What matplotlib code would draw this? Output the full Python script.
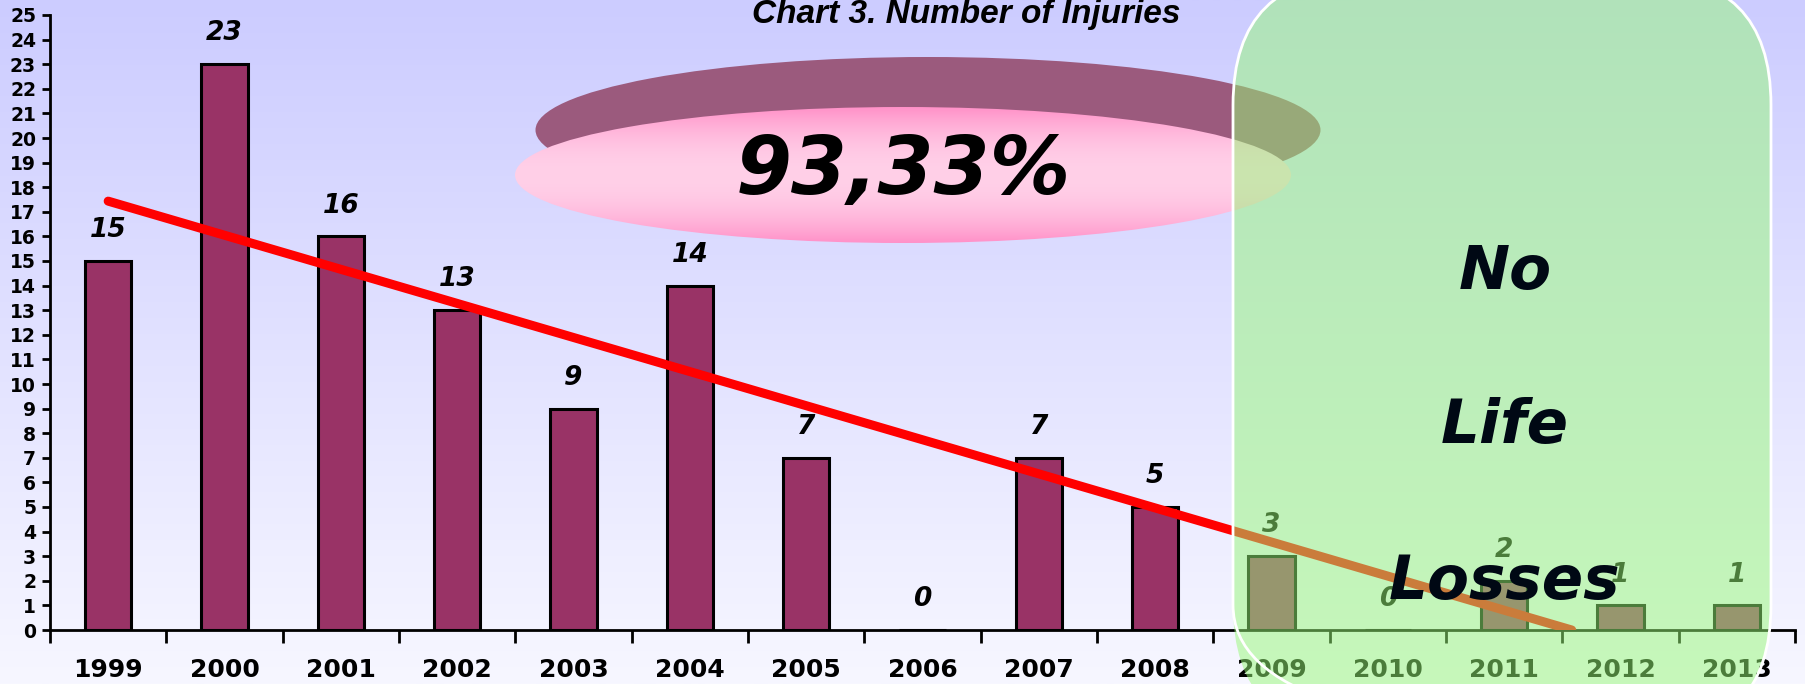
import numpy as np
import matplotlib
matplotlib.use('Agg')
import matplotlib.pyplot as plt
from matplotlib.patches import Ellipse, FancyBboxPatch

# Data
years = ['1999', '2000', '2001', '2002', '2003', '2004', '2005', '2006',
         '2007', '2008', '2009', '2010', '2011', '2012', '2013']
injuries = [15, 23, 16, 13, 9, 14, 7, 0, 7, 5, 3, 0, 2, 1, 1]
title_text = 'Chart 3. Number of Injuries'
reduction_text = '93,33%'
panel_words = ['No', 'Life', 'Losses']

W, H = 1806, 684
fig = plt.figure(figsize=(W / 100, H / 100), dpi=100)

# Background gradient
ax_bg = fig.add_axes([0, 0, 1, 1], zorder=0)
grad = np.linspace(0, 1, 256).reshape(-1, 1)
top_c = np.array([204, 204, 255]) / 255
bot_c = np.array([247, 247, 255]) / 255
img = top_c[None, None, :] * (1 - grad[:, :, None]) + bot_c[None, None, :] * grad[:, :, None]
ax_bg.imshow(img, aspect='auto', extent=[0, 1, 0, 1])
ax_bg.axis('off')

# Main chart
ax = fig.add_axes([50 / W, 54 / H, 1745 / W, 615 / H], zorder=1)
ax.patch.set_alpha(0)
x = np.arange(len(years))
ax.bar(x, injuries, width=0.4, color='#993366', edgecolor='black',
       linewidth=2.2, zorder=2)

for i, v in enumerate(injuries):
    ax.text(i, v + 1.25, str(v), ha='center', va='center', fontsize=19,
            fontweight='bold', fontstyle='italic', family='DejaVu Sans')

# Linear trend line down to zero
m, b = np.polyfit(x, injuries, 1)
x_end = -b / m
ax.plot([0, x_end], [b, 0], color='red', linewidth=6.5, solid_capstyle='round',
        zorder=3)

ax.set_xlim(-0.5, len(years) - 0.5)
ax.set_ylim(0, 25)
ax.set_yticks(range(0, 26))
ax.set_xticks(x)
ax.set_xticklabels(years)
ax.set_xticks(np.arange(-0.5, len(years), 1), minor=True)
ax.tick_params(axis='x', which='major', length=0, pad=20)
ax.tick_params(axis='x', which='minor', length=9, width=2, direction='out')
ax.tick_params(axis='y', length=6, width=2, direction='out', pad=4)
for lab in ax.get_xticklabels():
    lab.set_fontsize(18)
    lab.set_fontweight('bold')
    lab.set_family('DejaVu Sans')
for lab in ax.get_yticklabels():
    lab.set_fontsize(13.5)
    lab.set_fontweight('bold')
    lab.set_family('DejaVu Sans')
for side in ['top', 'right']:
    ax.spines[side].set_visible(False)
for side in ['left', 'bottom']:
    ax.spines[side].set_linewidth(2)

# Overlay in pixel coordinates
ov = fig.add_axes([0, 0, 1, 1], zorder=2)
ov.set_xlim(0, W)
ov.set_ylim(H, 0)
ov.axis('off')

rim = Ellipse((928, 130), 785, 146, facecolor='#9b5a7d', edgecolor='none',
              zorder=1)
ov.add_patch(rim)
disc = Ellipse((903, 175), 776, 136, facecolor='none', edgecolor='none',
               zorder=2)
ov.add_patch(disc)
pg = np.abs(np.linspace(-1, 1, 200)).reshape(-1, 1)
c_mid = np.array([255, 208, 232]) / 255
c_edge = np.array([255, 145, 200]) / 255
pimg = c_mid[None, None, :] * (1 - pg[:, :, None] ** 2) + c_edge[None, None, :] * pg[:, :, None] ** 2
im = ov.imshow(pimg, aspect='auto', extent=[515, 1291, 243, 107], zorder=2)
im.set_clip_path(disc)
ov.set_xlim(0, W)
ov.set_ylim(H, 0)

ov.text(903, 172, reduction_text, ha='center', va='center', fontsize=58,
        fontweight='bold', fontstyle='italic', family='DejaVu Sans', zorder=3)

ov.text(966, 15, title_text, ha='center', va='center', fontsize=24,
        fontweight='bold', fontstyle='italic', family='Liberation Sans',
        zorder=3)

panel = FancyBboxPatch((1233, -25), 538, 760,
                       boxstyle='round,pad=0,rounding_size=130',
                       facecolor=(151 / 255, 249 / 255, 118 / 255), alpha=0.5,
                       edgecolor='none', zorder=4)
ov.add_patch(panel)
panel_edge = FancyBboxPatch((1233, -25), 538, 760,
                            boxstyle='round,pad=0,rounding_size=130',
                            facecolor='none', edgecolor='white', linewidth=2,
                            zorder=4)
ov.add_patch(panel_edge)

for word, yy in zip(panel_words, [272, 427, 583]):
    ov.text(1505, yy, word, ha='center', va='center', fontsize=44,
            fontweight='bold', fontstyle='italic', family='DejaVu Sans',
            color='#000814', zorder=5)

fig.savefig('out.png', dpi=100)
